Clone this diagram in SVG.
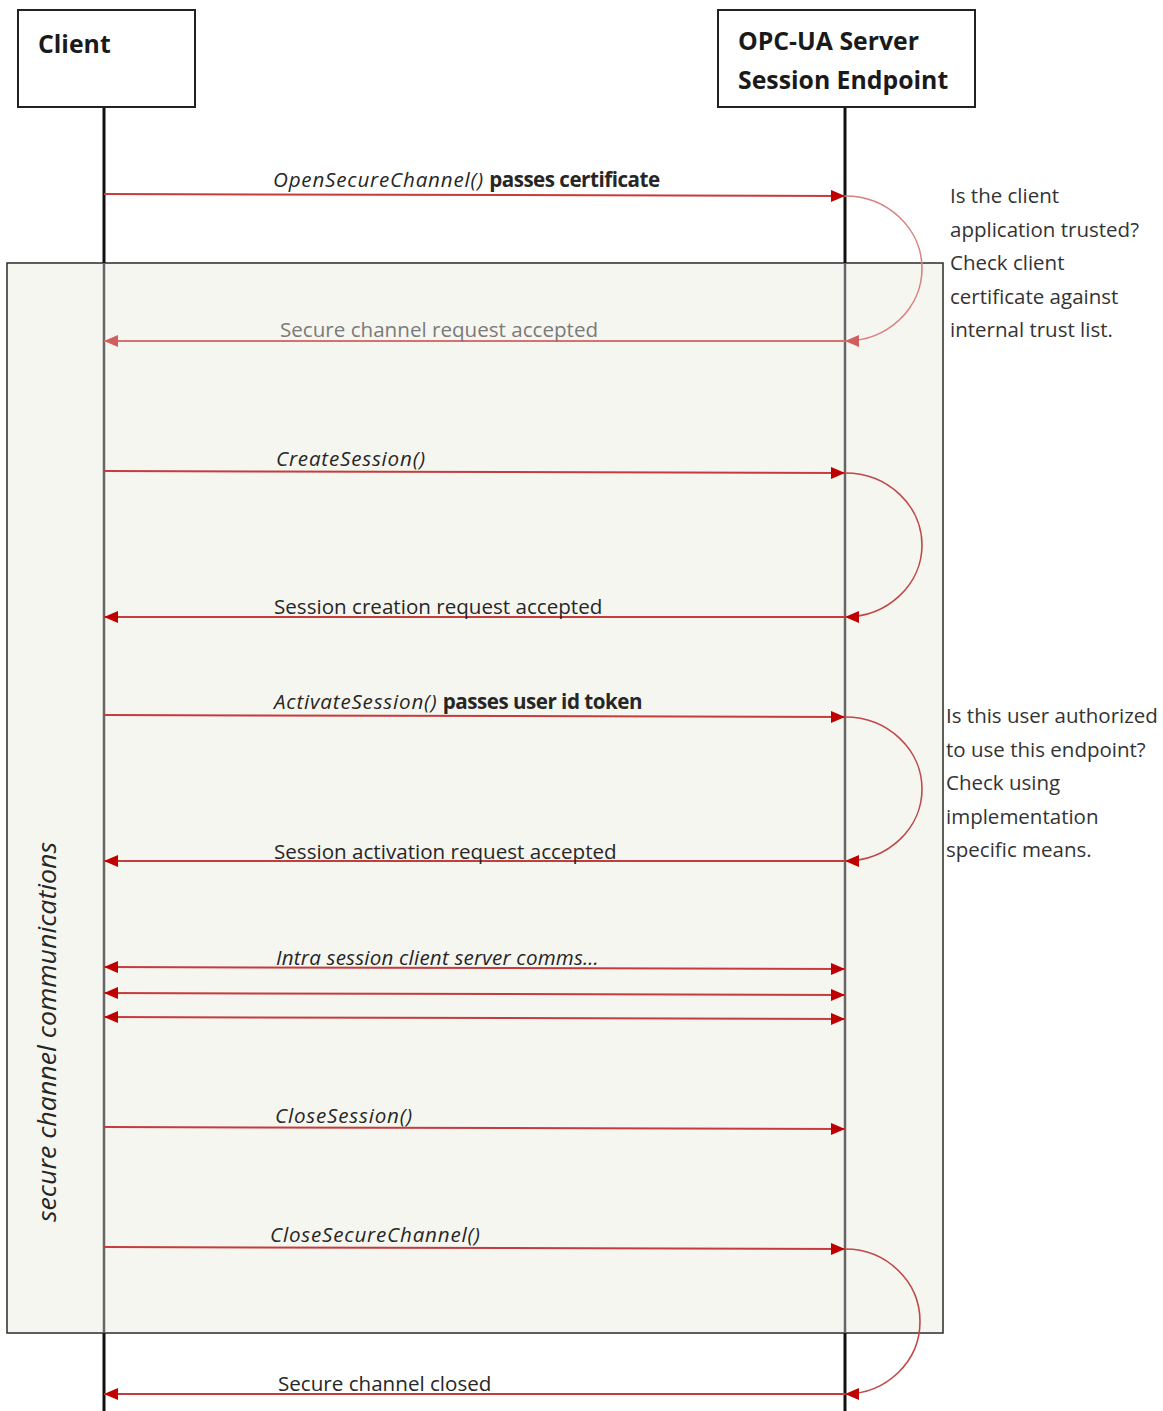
<svg xmlns="http://www.w3.org/2000/svg" width="1163" height="1411" viewBox="0 0 1163 1411">
<defs>
<style>
text{font-family:"Open Sans","Liberation Sans",sans-serif;fill:#262626}
.hdr{font-family:"Open Sans","Liberation Sans",sans-serif;font-weight:bold;font-size:24.8px;fill:#1a1a1a}
.lbl{font-size:20.6px}
.it{font-style:italic;letter-spacing:0.8px}
.b{font-weight:bold;letter-spacing:-0.5px}
.note{font-size:20.5px;fill:#333}
.msg{stroke:#c43c3c;stroke-width:2;fill:none}
.msgl{stroke:#d97070;stroke-width:2;fill:none}
.loop{stroke:#c04848;stroke-width:1.6;fill:none}
.loopl{stroke:#d98080;stroke-width:1.6;fill:none}
</style>
<marker id="ah" viewBox="0 0 14 12" refX="14" refY="6" markerWidth="14" markerHeight="12" markerUnits="userSpaceOnUse" orient="auto-start-reverse"><path d="M0,0 L14,6 L0,12 Z" fill="#c00000"/></marker>
<marker id="ahl" viewBox="0 0 14 12" refX="14" refY="6" markerWidth="14" markerHeight="12" markerUnits="userSpaceOnUse" orient="auto-start-reverse"><path d="M0,0 L14,6 L0,12 Z" fill="#d06060"/></marker>
</defs>
<rect width="1163" height="1411" fill="#ffffff"/>

<g id="secure-channel-frame">
<rect x="7" y="263" width="936" height="1070" fill="#f6f6f0" stroke="#2a2a2a" stroke-width="1.5"/>
<text font-style="italic" font-size="25" textLength="380" lengthAdjust="spacingAndGlyphs" transform="translate(56,1222) rotate(-90)">secure channel communications</text>
</g>

<g id="lifelines">
<line x1="104" y1="107" x2="104" y2="263" stroke="#111" stroke-width="3"/>
<line x1="104" y1="263" x2="104" y2="1333" stroke="#666" stroke-width="2.5"/>
<line x1="104" y1="1333" x2="104" y2="1411" stroke="#111" stroke-width="3"/>
<line x1="845" y1="107" x2="845" y2="263" stroke="#111" stroke-width="3"/>
<line x1="845" y1="263" x2="845" y2="1333" stroke="#666" stroke-width="2.5"/>
<line x1="845" y1="1333" x2="845" y2="1411" stroke="#111" stroke-width="3"/>
</g>

<g id="client">
<rect x="18" y="10" width="177" height="97" fill="#fff" stroke="#222" stroke-width="2"/>
<text class="hdr" x="38" y="53">Client</text>
</g>

<g id="server">
<rect x="718" y="10" width="257" height="97" fill="#fff" stroke="#222" stroke-width="2"/>
<text class="hdr" x="738" y="50">OPC-UA Server</text>
<text class="hdr" x="738" y="89">Session Endpoint</text>
</g>

<g id="connectors">
<line class="msg" x1="104" y1="194" x2="845" y2="196" marker-end="url(#ah)"/>
<path class="loopl" d="M845,196 A77,72.5 0 0 1 845,341" marker-end="url(#ahl)"/>
<line class="msgl" x1="845" y1="341" x2="104" y2="341" marker-end="url(#ahl)"/>

<line class="msg" x1="104" y1="471" x2="845" y2="473" marker-end="url(#ah)"/>
<path class="loop" d="M845,473 A77,72 0 0 1 845,617" marker-end="url(#ah)"/>
<line class="msg" x1="845" y1="617" x2="104" y2="617" marker-end="url(#ah)"/>

<line class="msg" x1="104" y1="715" x2="845" y2="717" marker-end="url(#ah)"/>
<path class="loop" d="M845,717 A77,72 0 0 1 845,861" marker-end="url(#ah)"/>
<line class="msg" x1="845" y1="861" x2="104" y2="861" marker-end="url(#ah)"/>

<line class="msg" x1="104" y1="967" x2="845" y2="969" marker-start="url(#ah)" marker-end="url(#ah)"/>
<line class="msg" x1="104" y1="993" x2="845" y2="995" marker-start="url(#ah)" marker-end="url(#ah)"/>
<line class="msg" x1="104" y1="1017" x2="845" y2="1019" marker-start="url(#ah)" marker-end="url(#ah)"/>

<line class="msg" x1="104" y1="1127" x2="845" y2="1129" marker-end="url(#ah)"/>

<line class="msg" x1="104" y1="1247" x2="845" y2="1249" marker-end="url(#ah)"/>
<path class="loop" d="M845,1249 A75,72.5 0 0 1 845,1394" marker-end="url(#ah)"/>
<line class="msg" x1="845" y1="1394" x2="104" y2="1394" marker-end="url(#ah)"/>
</g>

<g id="labels">
<text class="lbl" x="273" y="187"><tspan class="it">OpenSecureChannel()</tspan> <tspan class="b">passes certificate</tspan></text>
<text class="lbl" x="280" y="337" style="fill:#7a7a7a">Secure channel request accepted</text>
<text class="lbl it" x="276" y="466">CreateSession()</text>
<text class="lbl" x="274" y="614">Session creation request accepted</text>
<text class="lbl" x="274" y="709"><tspan class="it">ActivateSession()</tspan> <tspan class="b">passes user id token</tspan></text>
<text class="lbl" x="274" y="859">Session activation request accepted</text>
<text class="lbl it" x="276" y="965" style="letter-spacing:0.2px">Intra session client server comms…</text>
<text class="lbl it" x="275" y="1123">CloseSession()</text>
<text class="lbl it" x="270" y="1242">CloseSecureChannel()</text>
<text class="lbl" x="278" y="1391">Secure channel closed</text>
</g>

<g id="note-trust">
<text class="note" x="950" y="203">Is the client</text>
<text class="note" x="950" y="237">application trusted?</text>
<text class="note" x="950" y="270">Check client</text>
<text class="note" x="950" y="304">certificate against</text>
<text class="note" x="950" y="337">internal trust list.</text>
</g>

<g id="note-auth">
<text class="note" x="946" y="723">Is this user authorized</text>
<text class="note" x="946" y="757">to use this endpoint?</text>
<text class="note" x="946" y="790">Check using</text>
<text class="note" x="946" y="824">implementation</text>
<text class="note" x="946" y="857">specific means.</text>
</g>
</svg>
